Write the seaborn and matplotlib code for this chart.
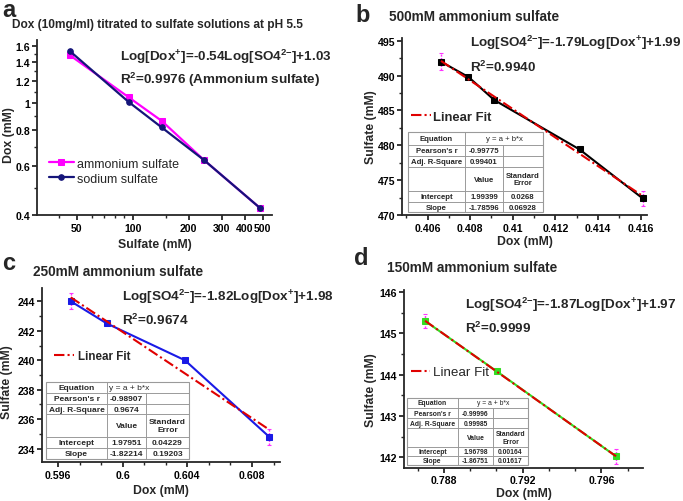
import numpy as np
import matplotlib
matplotlib.use("Agg")
import matplotlib.pyplot as plt
from matplotlib.ticker import FixedLocator, FixedFormatter, MultipleLocator, AutoMinorLocator, NullFormatter
from matplotlib.lines import Line2D
from matplotlib.patches import Rectangle
import seaborn as sns

# ---------------------------------------------
# Data
# ---------------------------------------------

# panel a : Dox vs sulfate (log-log)
sulfate_mm = [46, 95, 143, 241, 482]
dox_ammonium = [1.48, 1.05, 0.865, 0.628, 0.424]
dox_sodium = [1.53, 1.01, 0.82, 0.628, 0.424]

# panel b : 500mM ammonium sulfate
b_dox = [0.40663, 0.40792, 0.40913, 0.41314, 0.41609]
b_sulfate = [492.0, 489.8, 486.5, 479.4, 472.4]
b_err = [1.2, 1.1]

# panel c : 250mM ammonium sulfate
c_dox = [0.59679, 0.59901, 0.60385, 0.60907]
c_sulfate = [244.0, 242.5, 240.0, 234.8]
c_err = [0.55, 0.55]

# panel d : 150mM ammonium sulfate
d_dox = [0.78704, 0.79068, 0.79674]
d_sulfate = [145.30, 144.08, 142.02]
d_err = [0.18, 0.19]

# fit tables
b_table = ["-0.99775", "0.99401", "1.99399", "0.0268", "-1.78596", "0.06928"]
c_table = ["-0.98907", "0.9674", "1.97951", "0.04229", "-1.82214", "0.19203"]
d_table = ["-0.99996", "0.99985", "1.96798", "0.00164", "-1.86751", "0.01617"]

W, H = 683, 502

sns.set_style("ticks")
plt.rcParams['font.family'] = ['Liberation Sans', 'DejaVu Sans']
plt.rcParams['mathtext.default'] = 'regular'
plt.rcParams['axes.linewidth'] = 1.3
plt.rcParams['xtick.major.width'] = 1.1
plt.rcParams['ytick.major.width'] = 1.1
plt.rcParams['xtick.minor.width'] = 1.0
plt.rcParams['ytick.minor.width'] = 1.0
plt.rcParams['xtick.major.size'] = 3.5
plt.rcParams['ytick.major.size'] = 3.5
plt.rcParams['xtick.minor.size'] = 2
plt.rcParams['ytick.minor.size'] = 2
plt.rcParams['xtick.major.pad'] = 2
plt.rcParams['ytick.major.pad'] = 1.5


def fx(x):
    return x / W


def fy(y):
    return 1 - y / H


def px_axes(fig, left, top, right, bottom):
    return fig.add_axes([fx(left), fy(bottom), (right - left) / W, (bottom - top) / H])


def style_axes(ax):
    sns.despine(ax=ax)
    ax.tick_params(labelsize=7.6, colors='black')
    for lab in ax.get_xticklabels() + ax.get_yticklabels():
        lab.set_fontweight('bold')


def draw_table(fig, cols, rows, vals, fs, left_span=False):
    """Origin-like fit table, drawn in figure pixels"""
    x0, x3 = cols[0], cols[-1]
    fig.add_artist(Rectangle((fx(x0), fy(rows[-1])), (x3 - x0) / W, (rows[-1] - rows[0]) / H,
                             transform=fig.transFigure, facecolor='white',
                             edgecolor='#9a9a9a', lw=0.8, zorder=5))
    gray = dict(color='#9a9a9a', lw=0.7, transform=fig.transFigure, zorder=6)
    for r in rows[1:-1]:
        fig.add_artist(Line2D([fx(x0), fx(x3)], [fy(r), fy(r)], **gray))
    fig.add_artist(Line2D([fx(cols[1])] * 2, [fy(rows[0]), fy(rows[-1])], **gray))
    fig.add_artist(Line2D([fx(cols[2])] * 2, [fy(rows[1]), fy(rows[-1])], **gray))

    tk = dict(fontsize=fs, fontweight='bold', va='center', ha='center', zorder=7)
    cx = [(cols[i] + cols[i + 1]) / 2 for i in range(3)]
    cy = [(rows[i] + rows[i + 1]) / 2 for i in range(6)]
    fig.text(fx(cx[0]), fy(cy[0]), "Equation", **tk)
    if left_span:
        fig.text(fx(cols[1] + 2), fy(cy[0]), "y = a + b*x", **{**tk, 'ha': 'left', 'fontweight': 'normal'})
    else:
        fig.text(fx((cols[1] + cols[3]) / 2), fy(cy[0]), "y = a + b*x", **{**tk, 'fontweight': 'normal'})
    fig.text(fx(cx[0]), fy(cy[1]), "Pearson's r", **tk)
    fig.text(fx(cx[1]), fy(cy[1]), vals[0], **tk)
    fig.text(fx(cx[0]), fy(cy[2]), "Adj. R-Square", **tk)
    fig.text(fx(cx[1]), fy(cy[2]), vals[1], **tk)
    fig.text(fx(cx[1]), fy(cy[3]), "Value", **tk)
    fig.text(fx(cx[2]), fy(cy[3]), "Standard\nError", linespacing=1.1, **tk)
    fig.text(fx(cx[0]), fy(cy[4]), "Intercept", **tk)
    fig.text(fx(cx[1]), fy(cy[4]), vals[2], **tk)
    fig.text(fx(cx[2]), fy(cy[4]), vals[3], **tk)
    fig.text(fx(cx[0]), fy(cy[5]), "Slope", **tk)
    fig.text(fx(cx[1]), fy(cy[5]), vals[4], **tk)
    fig.text(fx(cx[2]), fy(cy[5]), vals[5], **tk)


def fit_panel(ax, x, y, err, color, marker_color):
    sns.lineplot(x=x, y=y, color=color, lw=1.5, marker='s', markersize=4,
                 markeredgecolor=marker_color, markerfacecolor=marker_color, ax=ax)
    ends_x = [x[0], x[-1]]
    ends_y = [y[0], y[-1]]
    eb = ax.errorbar(ends_x, ends_y, yerr=err, fmt='none', ecolor='#ff33ff',
                     elinewidth=1.0, capsize=1.2, capthick=0.8, zorder=1)
    eb[2][0].set_linestyle((0, (1.5, 1)))
    sns.regplot(x=x, y=y, scatter=False, ci=None, ax=ax, color='#e00000', label='Linear Fit',
                line_kws=dict(ls=(0, (5, 1.5, 1, 1.5)), lw=1.5, zorder=4))


fig = plt.figure(figsize=(W / 100, H / 100), dpi=100)

# ---------------- panel a -----------------
ax_a = px_axes(fig, 37, 41, 272, 216)
sns.lineplot(x=sulfate_mm, y=dox_ammonium, color='#ff00ff', lw=1.6, marker='s', markersize=4,
             markeredgecolor='#ff00ff', label='ammonium sulfate', ax=ax_a)
sns.lineplot(x=sulfate_mm, y=dox_sodium, color='#15157a', lw=1.6, marker='o', markersize=4,
             markeredgecolor='#15157a', label='sodium sulfate', ax=ax_a)
ax_a.set_xscale('log')
ax_a.set_yscale('log')
ax_a.set_xlim(30.5, 560)
ax_a.set_ylim(0.4, 1.68)
ax_a.xaxis.set_major_locator(FixedLocator([50, 100, 200, 300, 400, 500]))
ax_a.xaxis.set_major_formatter(FixedFormatter(["50", "100", "200", "300", "400", "500"]))
ax_a.xaxis.set_minor_locator(FixedLocator([40, 60, 70, 80, 90, 150]))
ax_a.xaxis.set_minor_formatter(NullFormatter())
ax_a.yaxis.set_major_locator(FixedLocator([0.4, 0.6, 0.8, 1, 1.2, 1.4, 1.6]))
ax_a.yaxis.set_major_formatter(FixedFormatter(["0.4", "0.6", "0.8", "1", "1.2", "1.4", "1.6"]))
ax_a.yaxis.set_minor_locator(FixedLocator([0.5, 0.7, 0.9, 1.1, 1.3, 1.5]))
ax_a.yaxis.set_minor_formatter(NullFormatter())
ax_a.set_xlabel("Sulfate (mM)", fontsize=8.8, fontweight='bold', labelpad=4)
ax_a.set_ylabel("Dox (mM)", fontsize=8.8, fontweight='bold')
ax_a.yaxis.set_label_coords(-0.094, 0.463)
style_axes(ax_a)
ax_a.legend(loc='center left', bbox_to_anchor=(0.05, 0.25), frameon=False, fontsize=9,
            handlelength=2.0, handletextpad=0.25, labelspacing=0.25, borderpad=0, borderaxespad=0)

# ---------------- panel b -----------------
ax_b = px_axes(fig, 402, 39, 647, 216)
fit_panel(ax_b, b_dox, b_sulfate, b_err, 'black', 'black')
ax_b.set_xlim(0.4048, 0.4163)
ax_b.set_ylim(470, 495.4)
ax_b.xaxis.set_major_locator(FixedLocator([0.406, 0.408, 0.41, 0.412, 0.414, 0.416]))
ax_b.xaxis.set_major_formatter(FixedFormatter(["0.406", "0.408", "0.41", "0.412", "0.414", "0.416"]))
ax_b.xaxis.set_minor_locator(MultipleLocator(0.001))
ax_b.yaxis.set_major_locator(MultipleLocator(5))
ax_b.yaxis.set_minor_locator(AutoMinorLocator(2))
ax_b.set_xlabel("Dox (mM)", fontsize=8.8, fontweight='bold', labelpad=2)
ax_b.set_ylabel("Sulfate (mM)", fontsize=8.8, fontweight='bold')
ax_b.yaxis.set_label_coords(-0.102, 0.503)
style_axes(ax_b)
ax_b.legend(loc='center left', bbox_to_anchor=(0.035, 0.554), frameon=False,
            prop=dict(size=9.4, weight='bold'), handlelength=1.55, handletextpad=0.15,
            borderpad=0, borderaxespad=0)

# ---------------- panel c -----------------
ax_c = px_axes(fig, 42, 289, 280, 463)
fit_panel(ax_c, c_dox, c_sulfate, c_err, '#1a1ae6', '#1a1ae6')
ax_c.set_xlim(0.59501, 0.60973)
ax_c.set_ylim(233.1, 244.9)
ax_c.xaxis.set_major_locator(FixedLocator([0.596, 0.6, 0.604, 0.608]))
ax_c.xaxis.set_major_formatter(FixedFormatter(["0.596", "0.6", "0.604", "0.608"]))
ax_c.xaxis.set_minor_locator(AutoMinorLocator(3))
ax_c.yaxis.set_major_locator(MultipleLocator(2))
ax_c.yaxis.set_minor_locator(AutoMinorLocator(2))
ax_c.set_xlabel("Dox (mM)", fontsize=8.8, fontweight='bold', labelpad=3)
ax_c.set_ylabel("Sulfate (mM)", fontsize=8.8, fontweight='bold')
ax_c.yaxis.set_label_coords(-0.122, 0.466)
style_axes(ax_c)
ax_c.legend(loc='center left', bbox_to_anchor=(0.052, 0.609), frameon=False,
            prop=dict(size=8.4, weight='bold'), handlelength=1.7, handletextpad=0.3,
            borderpad=0, borderaxespad=0)

# ---------------- panel d -----------------
ax_d = px_axes(fig, 404, 291, 643, 468.5)
fit_panel(ax_d, d_dox, d_sulfate, d_err, '#33dd22', '#33dd22')
ax_d.set_xlim(0.78597, 0.79811)
ax_d.set_ylim(141.75, 146.05)
ax_d.xaxis.set_major_locator(FixedLocator([0.788, 0.792, 0.796]))
ax_d.xaxis.set_major_formatter(FixedFormatter(["0.788", "0.792", "0.796"]))
ax_d.xaxis.set_minor_locator(AutoMinorLocator(3))
ax_d.yaxis.set_major_locator(MultipleLocator(1))
ax_d.yaxis.set_minor_locator(AutoMinorLocator(2))
ax_d.set_xlabel("Dox (mM)", fontsize=8.8, fontweight='bold', labelpad=1.5)
ax_d.set_ylabel("Sulfate (mM)", fontsize=8.8, fontweight='bold')
ax_d.yaxis.set_label_coords(-0.113, 0.442)
style_axes(ax_d)
ax_d.legend(loc='center left', bbox_to_anchor=(0.03, 0.538), frameon=False,
            prop=dict(size=9.6), handlelength=1.4, handletextpad=0.2,
            borderpad=0, borderaxespad=0)

# ---------------- tables -----------------
draw_table(fig, [408, 465, 503, 543], [133, 146, 157, 168, 192, 203, 213], b_table, 5.6)
draw_table(fig, [46, 107, 146, 189], [383, 394, 405, 415, 438, 449, 460], c_table, 6.0, left_span=True)
draw_table(fig, [407, 458, 493, 528], [399, 409, 419, 429, 448, 457, 466], d_table, 4.9)

# ---------------- texts -----------------
bold = dict(fontweight='bold', va='center', ha='left')
fig.text(fx(2), fy(17), "a", fontsize=17, fontweight='bold', va='baseline')
fig.text(fx(355), fy(22), "b", fontsize=17, fontweight='bold', va='baseline')
fig.text(fx(2), fy(270), "c", fontsize=17, fontweight='bold', va='baseline')
fig.text(fx(354), fy(265), "d", fontsize=17, fontweight='bold', va='baseline')

fig.text(fx(12), fy(25), "Dox (10mg/ml) titrated to sulfate solutions at pH 5.5", fontsize=8.6, **bold)
fig.text(fx(389), fy(17), "500mM ammonium sulfate", fontsize=9.8, **bold)
fig.text(fx(33), fy(272), "250mM ammonium sulfate", fontsize=9.8, **bold)
fig.text(fx(387), fy(268), "150mM ammonium sulfate", fontsize=9.8, **bold)

eq_fs = 9.7
fig.text(fx(120), fy(57), r"Log[Dox$^{+}$]=-0.54Log[SO4$^{2{-}}$]+1.03", fontsize=eq_fs, **bold)
fig.text(fx(120), fy(80), r"R$^{2}$=0.9976 (Ammonium sulfate)", fontsize=eq_fs, **bold)
fig.text(fx(470), fy(43), r"Log[SO4$^{2{-}}$]=-1.79Log[Dox$^{+}$]+1.99", fontsize=eq_fs, **bold)
fig.text(fx(470), fy(67), r"R$^{2}$=0.9940", fontsize=eq_fs, **bold)
fig.text(fx(122), fy(297), r"Log[SO4$^{2{-}}$]=-1.82Log[Dox$^{+}$]+1.98", fontsize=eq_fs, **bold)
fig.text(fx(122), fy(320), r"R$^{2}$=0.9674", fontsize=eq_fs, **bold)
fig.text(fx(465), fy(305), r"Log[SO4$^{2{-}}$]=-1.87Log[Dox$^{+}$]+1.97", fontsize=eq_fs, **bold)
fig.text(fx(465), fy(328), r"R$^{2}$=0.9999", fontsize=eq_fs, **bold)

fig.savefig("out.png", dpi=100)
